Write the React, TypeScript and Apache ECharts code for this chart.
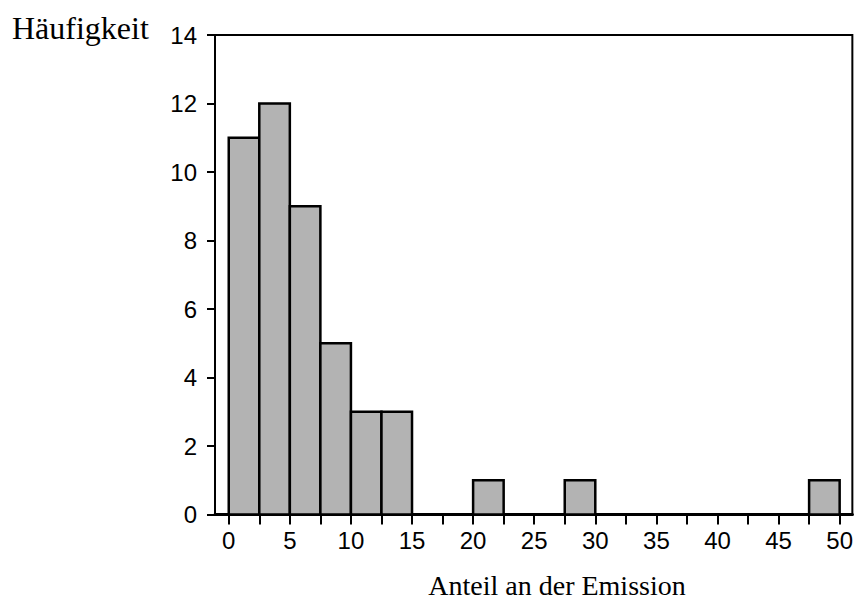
import React, { useEffect, useRef } from "react";
import * as echarts from "echarts";

const binWidth = 2.5;
const binStarts = [0, 2.5, 5, 7.5, 10, 12.5, 15, 17.5, 20, 22.5, 25, 27.5, 30, 32.5, 35, 37.5, 40, 42.5, 45, 47.5];
const counts = [11, 12, 9, 5, 3, 3, 0, 0, 1, 0, 0, 1, 0, 0, 0, 0, 0, 0, 0, 1];
const xTickValues = [0, 2.5, 5, 7.5, 10, 12.5, 15, 17.5, 20, 22.5, 25, 27.5, 30, 32.5, 35, 37.5, 40, 42.5, 45, 47.5, 50];
const xLabelValues = [0, 5, 10, 15, 20, 25, 30, 35, 40, 45, 50];
const yTitle = "Häufigkeit";
const xTitle = "Anteil an der Emission";

export default function App() {
  const ref = useRef<HTMLDivElement>(null);
  useEffect(() => {
    if (!ref.current) return;
    const chart = echarts.init(ref.current, null, { renderer: "svg" });
    const data = binStarts.map((s, i) => [s, s + binWidth, counts[i]]);
    chart.setOption({
      animation: false,
      grid: {
        left: 215,
        top: 35,
        width: 640,
        height: 479.5,
        show: true,
        borderColor: "#000",
        borderWidth: 2,
        backgroundColor: "transparent",
      },
      xAxis: {
        type: "value",
        min: -1.125,
        max: 51.04,
        splitLine: { show: false },
        axisLine: { show: true, onZero: false, lineStyle: { color: "#000", width: 3 } },
        axisTick: {
          show: true,
          length: 10,
          inside: false,
          customValues: xTickValues,
          lineStyle: { color: "#000", width: 2 },
        },
        axisLabel: {
          customValues: xLabelValues,
          color: "#000",
          fontFamily: "Liberation Sans, Arial, sans-serif",
          fontSize: 24,
          margin: 14,
        },
      },
      yAxis: {
        type: "value",
        min: 0,
        max: 14,
        interval: 2,
        splitLine: { show: false },
        axisLine: { show: true, onZero: false, lineStyle: { color: "#000", width: 2 } },
        axisTick: { show: true, length: 8, inside: false, lineStyle: { color: "#000", width: 2 } },
        axisLabel: {
          color: "#000",
          fontFamily: "Liberation Sans, Arial, sans-serif",
          fontSize: 24,
          margin: 18,
        },
      },
      series: [
        {
          type: "custom",
          data,
          encode: { x: [0, 1], y: 2 },
          renderItem: (params: any, api: any) => {
            const x0 = api.value(0);
            const x1 = api.value(1);
            const v = api.value(2);
            const p0 = api.coord([x0, v]);
            const p1 = api.coord([x1, 0]);
            return {
              type: "rect",
              shape: { x: p0[0], y: p0[1], width: p1[0] - p0[0], height: p1[1] - p0[1] },
              style: { fill: "#b3b3b3", stroke: "#000", lineWidth: 2.5 },
            };
          },
        },
      ],
      graphic: [
        {
          type: "text",
          left: 12,
          top: 12,
          style: {
            text: yTitle,
            fill: "#000",
            font: "32px 'Liberation Serif', 'Times New Roman', serif",
          },
        },
        {
          type: "text",
          x: 557,
          y: 585,
          style: {
            text: xTitle,
            fill: "#000",
            align: "center",
            verticalAlign: "middle",
            lineHeight: 28,
            font: "28px 'Liberation Serif', 'Times New Roman', serif",
          },
        },
      ],
    });
    return () => chart.dispose();
  }, []);
  return <div ref={ref} style={{ width: 856, height: 600, position: "absolute", left: 0, top: 0 }} />;
}
